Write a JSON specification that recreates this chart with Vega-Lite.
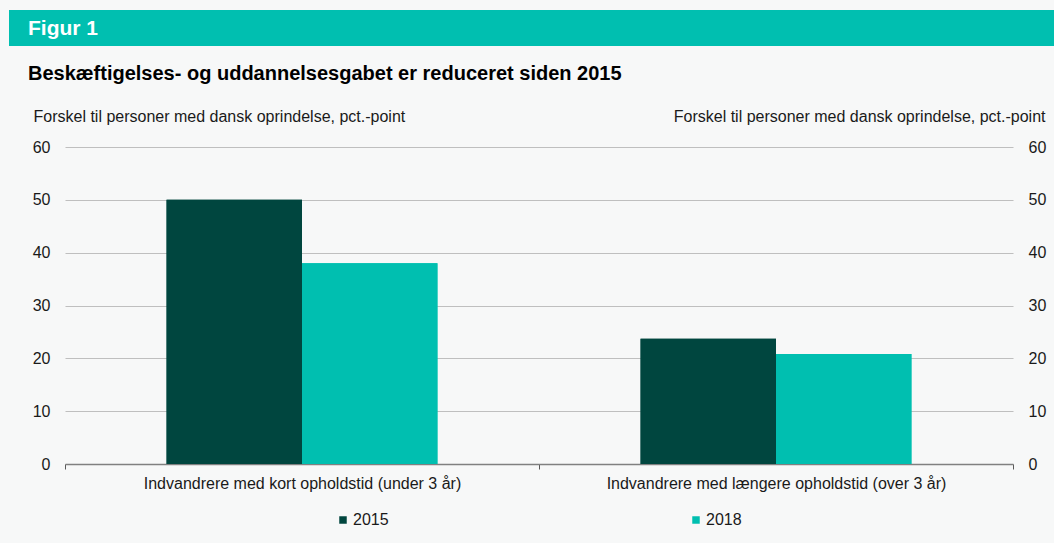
{
  "$schema": "https://vega.github.io/schema/vega-lite/v6.json",
  "background": "#f7f8f8",
  "padding": {"left": 9, "top": 10, "right": -15, "bottom": 15},
  "config": {
    "font": "Liberation Sans",
    "view": {"stroke": null},
    "axis": {"labelFont": "Liberation Sans", "labelFontSize": 16, "labelColor": "#1a1a1a", "titleFont": "Liberation Sans"}
  },
  "columns": 1,
  "bounds": "flush",
  "center": true,
  "spacing": 101,
  "resolve": {"scale": {"color": "independent"}, "legend": {"color": "independent"}},
  "concat": [
    {
      "width": 1060,
      "height": 36,
      "view": {"fill": "#00bfb0", "stroke": null},
      "title": {"text": "Figur 1", "orient": "bottom", "anchor": "start", "frame": "group", "offset": -11, "baseline": "alphabetic", "dx": 19, "fontSize": 21, "fontWeight": "bold", "color": "#ffffff", "font": "Liberation Sans"},
      "data": {"values": [{"t": ""}]},
      "mark": "text",
      "encoding": {"text": {"field": "t"}}
    },
    {
      "width": 948,
      "height": 317,
      "title": {"text": "Beskæftigelses- og uddannelsesgabet er reduceret siden 2015", "anchor": "start", "frame": "group", "offset": 8, "baseline": "alphabetic", "dx": -37, "fontSize": 20, "fontWeight": "bold", "color": "#000000", "font": "Liberation Sans"},
      "data": {"values": [
        {"kategori": "Indvandrere med kort opholdstid (under 3 år)", "år": "2015", "værdi": 50},
        {"kategori": "Indvandrere med kort opholdstid (under 3 år)", "år": "2018", "værdi": 38},
        {"kategori": "Indvandrere med længere opholdstid (over 3 år)", "år": "2015", "værdi": 23.7},
        {"kategori": "Indvandrere med længere opholdstid (over 3 år)", "år": "2018", "værdi": 20.8}
      ]},
      "encoding": {
        "x": {
          "field": "kategori", "type": "nominal", "sort": null,
          "scale": {"paddingInner": 0, "paddingOuter": 0},
          "axis": {
            "title": null,
            "labelAngle": 0, "labelPadding": 6, "labelLimit": 500, "labelFontSize": 16,
            "tickBand": "extent", "ticks": true, "tickSize": 5, "tickColor": "#595959",
            "domainColor": "#808080", "domainWidth": 1.5, "grid": false
          }
        },
        "xOffset": {"field": "år", "type": "nominal", "scale": {"paddingOuter": 0.75, "paddingInner": 0}},
        "color": {
          "field": "år", "type": "nominal",
          "scale": {"domain": ["2015", "2018"], "range": ["#00463f", "#00bfb0"]},
          "legend": {
            "orient": "none", "legendX": 270, "legendY": 365, "direction": "horizontal", "title": null,
            "symbolType": "square", "symbolSize": 56, "symbolStrokeWidth": 0, "labelFontSize": 16, "labelColor": "#1a1a1a",
            "labelOffset": 2, "columnPadding": 299, "padding": 0
          }
        }
      },
      "layer": [
        {
          "mark": {"type": "bar"},
          "encoding": {
            "y": {
              "field": "værdi", "type": "quantitative",
              "scale": {"domain": [0, 60], "nice": false},
              "axis": {
                "orient": "left", "values": [0, 10, 20, 30, 40, 50, 60], "domain": false, "ticks": false,
                "grid": true, "gridColor": "#bfbfbf", "gridWidth": 1, "labelPadding": 15,
                "title": "Forskel til personer med dansk oprindelse, pct.-point",
                "titleAngle": 0, "titleAlign": "left", "titleBaseline": "alphabetic", "titleX": -32, "titleY": -26,
                "titleFontSize": 16, "titleFontWeight": "normal", "titleColor": "#1a1a1a"
              }
            }
          }
        },
        {
          "mark": {"type": "bar"},
          "encoding": {
            "y": {
              "field": "værdi", "type": "quantitative",
              "scale": {"domain": [0, 60], "nice": false},
              "axis": {
                "orient": "right", "values": [0, 10, 20, 30, 40, 50, 60], "domain": false, "ticks": false,
                "grid": false, "labelPadding": 15,
                "title": "Forskel til personer med dansk oprindelse, pct.-point",
                "titleAngle": 0, "titleAlign": "right", "titleBaseline": "alphabetic", "titleX": 32, "titleY": -26,
                "titleFontSize": 16, "titleFontWeight": "normal", "titleColor": "#1a1a1a"
              }
            }
          }
        }
      ],
      "resolve": {"scale": {"y": "independent"}}
    }
  ]
}
